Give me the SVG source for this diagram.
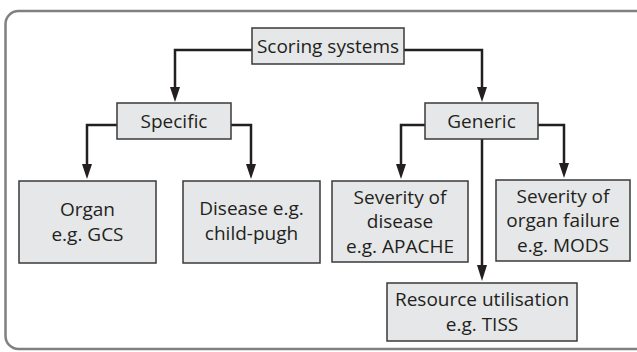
<svg xmlns="http://www.w3.org/2000/svg" width="637" height="352" viewBox="0 0 637 352">
<style>
.box{fill:#e6e7e8;stroke:#3a3a3a;stroke-width:1.5}
.t{font-family:"Open Sans","Noto Sans",sans-serif;font-size:19px;fill:#231f20;text-anchor:middle}
.c{fill:none;stroke:#231f20;stroke-width:2.5}
</style>
<defs>
<marker id="ah" markerUnits="userSpaceOnUse" markerWidth="10" markerHeight="16" viewBox="0 0 10 16" refX="5" refY="16" orient="auto-start-reverse">
<path d="M0,0 L10,0 L5,16 Z" fill="#231f20"/>
</marker>
</defs>
<rect x="5.5" y="11" width="645" height="338" rx="13" ry="13" fill="#fff" stroke="#808080" stroke-width="2.5"/>
<g id="connectors">
<path class="c" d="M252,50 H175 V87" />
<path d="M170,87 L180,87 L175,102 Z" fill="#231f20"/>
<path class="c" d="M404,50 H482 V87" />
<path d="M477,87 L487,87 L482,102 Z" fill="#231f20"/>
<path class="c" d="M117,125 H87 V164" />
<path d="M82,164 L92,164 L87,179 Z" fill="#231f20"/>
<path class="c" d="M231,125 H251 V164" />
<path d="M246,164 L256,164 L251,179 Z" fill="#231f20"/>
<path class="c" d="M425,125 H401 V164" />
<path d="M396,164 L406,164 L401,179 Z" fill="#231f20"/>
<path class="c" d="M538,125 H564 V163" />
<path d="M559,163 L569,163 L564,178 Z" fill="#231f20"/>
<path class="c" d="M482,139 V265" />
<path d="M477,265 L487,265 L482,281 Z" fill="#231f20"/>
</g>
<g id="scoring">
<rect class="box" x="252" y="28" width="152" height="36"/>
<text class="t" x="328" y="53">Scoring systems</text>
</g>
<g id="specific">
<rect class="box" x="117" y="103" width="114" height="36"/>
<text class="t" x="174" y="128">Specific</text>
</g>
<g id="generic">
<rect class="box" x="425" y="103" width="113" height="36"/>
<text class="t" x="481.5" y="128">Generic</text>
</g>
<g id="organ">
<rect class="box" x="19" y="181" width="137" height="82"/>
<text class="t" x="87.5" y="216">Organ</text>
<text class="t" x="87.5" y="241">e.g. GCS</text>
</g>
<g id="disease">
<rect class="box" x="183" y="181" width="137" height="82"/>
<text class="t" x="251.5" y="215">Disease e.g.</text>
<text class="t" x="251.5" y="240">child-pugh</text>
</g>
<g id="severity-disease">
<rect class="box" x="332" y="181" width="136" height="81"/>
<text class="t" x="400" y="203.5">Severity of</text>
<text class="t" x="400" y="228">disease</text>
<text class="t" x="400" y="252.5">e.g. APACHE</text>
</g>
<g id="severity-organ">
<rect class="box" x="496" y="180" width="134" height="81"/>
<text class="t" x="563" y="202.5">Severity of</text>
<text class="t" x="563" y="227">organ failure</text>
<text class="t" x="563" y="251.5">e.g. MODS</text>
</g>
<g id="resource">
<rect class="box" x="387" y="283" width="190" height="58"/>
<text class="t" x="482" y="306">Resource utilisation</text>
<text class="t" x="482" y="331">e.g. TISS</text>
</g>
</svg>
